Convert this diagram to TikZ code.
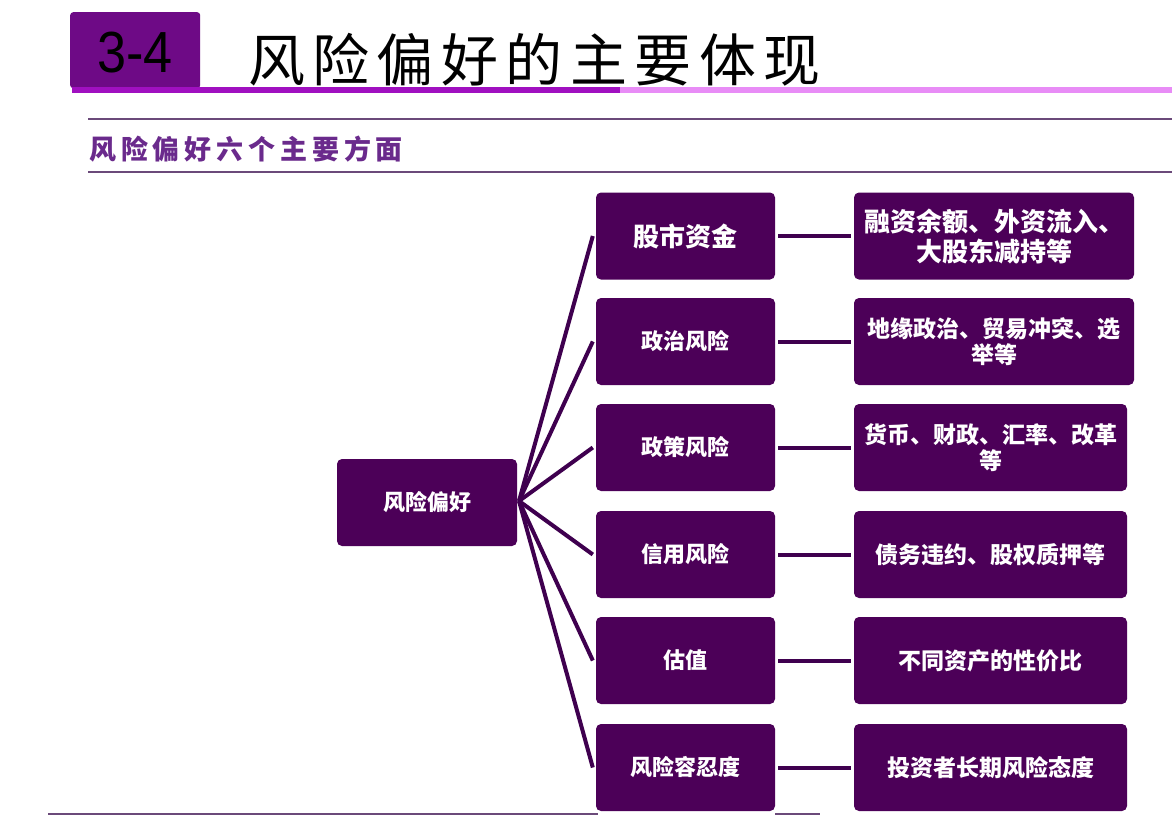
\documentclass[tikz,border=0pt]{standalone}
\usepackage{fontspec}
\setmainfont{Liberation Sans}
\newfontfamily\cjk{Noto Sans CJK SC}
\begin{document}
\begin{tikzpicture}[x=1pt,y=-1pt,
  box/.style={fill=boxc, rounded corners=5pt, inner sep=0pt, text=white, font=\cjk\bfseries, align=center},
  conn/.style={draw=linec, line width=4pt}]
\definecolor{boxc}{HTML}{4C0058}
\definecolor{linec}{HTML}{3F004F}
\definecolor{titlebox}{HTML}{6E0A86}
\definecolor{magline}{HTML}{A010C0}
\definecolor{pinkline}{HTML}{E88CF6}
\definecolor{subc}{HTML}{6A2A8C}
\definecolor{rulec}{HTML}{6B4A7A}
\useasboundingbox (0,0) rectangle (1172,817);
\fill[white] (0,0) rectangle (1172,817);
% header
\node[fill=titlebox, minimum width=130pt, minimum height=76pt, inner sep=0pt, anchor=north west, rounded corners=3pt] (hb) at (70,12) {};
\node[font=\fontsize{58}{60}\selectfont, text=black, anchor=center, xscale=0.9] (hnum) at (135,53) {3-4};
\node[font=\cjk\fontsize{57}{60}\selectfont\addfontfeatures{LetterSpace=13}, anchor=west, inner sep=0pt] (title) at (248,60) {风险偏好的主要体现};
\fill[magline] (72,87) rectangle (620,93);
\fill[pinkline] (620,87) rectangle (1172,93);
\draw[rulec, line width=2pt] (88,119) -- (1172,119);
\node[font=\cjk\bfseries\fontsize{27}{29}\selectfont\addfontfeatures{LetterSpace=18}, text=subc, anchor=west, inner sep=0pt] (sub) at (89,149) {风险偏好六个主要方面};
\draw[rulec, line width=2pt] (88,172) -- (1172,172);
% center
\node[box, minimum width=180pt, minimum height=87pt, font=\cjk\bfseries\fontsize{22}{24}\selectfont] (c) at (427,502.5) {风险偏好};
% middle column
\tikzset{mid/.style={box, minimum width=179pt, minimum height=87pt, font=\cjk\bfseries\fontsize{22}{24}\selectfont},
  rgt/.style={box, minimum width=276pt, minimum height=87pt, font=\cjk\bfseries\fontsize{23}{26}\selectfont}}
\node[mid, font=\cjk\bfseries\fontsize{26}{28}\selectfont] (m1) at (685.5,236) {股市资金};
\node[mid] (m2) at (685.5,341.5) {政治风险};
\node[mid] (m3) at (685.5,447.5) {政策风险};
\node[mid] (m4) at (685.5,554.5) {信用风险};
\node[mid] (m5) at (685.5,660.5) {估值};
\node[mid] (m6) at (685.5,767.5) {风险容忍度};
% right column
\node[rgt, minimum width=280pt, font=\cjk\bfseries\fontsize{26}{30}\selectfont] (r1) at (994,236) {融资余额、外资流入、\\大股东减持等};
\node[rgt, minimum width=280pt] (r2) at (994,341.5) {地缘政治、贸易冲突、选\\举等};
\node[rgt, minimum width=273pt] (r3) at (990.5,447.5) {货币、财政、汇率、改革\\等};
\node[rgt, minimum width=273pt] (r4) at (990.5,554.5) {债务违约、股权质押等};
\node[rgt, minimum width=273pt] (r5) at (990.5,660.5) {不同资产的性价比};
\node[rgt, minimum width=273pt] (r6) at (990.5,767.5) {投资者长期风险态度};
% connectors
\coordinate (hub) at (519,501);
\foreach \i in {1,...,6} {
  \draw[conn] (hub) -- ([xshift=-3pt]m\i.west);
  \draw[conn] ([xshift=3pt]m\i.east) -- ([xshift=-3pt]r\i.west);
}
% bottom rules
\draw[rulec, line width=2pt] (48,814) -- (598,814);
\draw[rulec, line width=2pt] (775,814) -- (820,814);
\end{tikzpicture}
\end{document}
